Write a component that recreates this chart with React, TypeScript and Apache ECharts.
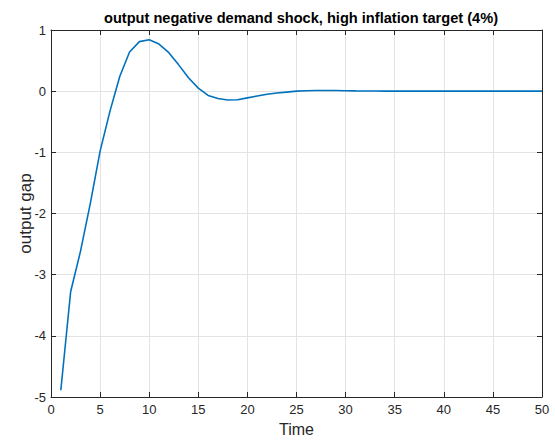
import React, { useEffect, useRef } from "react";
import * as echarts from "echarts";

const periods: number[] = Array.from({ length: 50 }, (_, i) => i + 1);
const outputGap: number[] = [
  -4.89, -3.28, -2.62, -1.84, -0.98, -0.33, 0.24, 0.64, 0.81, 0.84,
  0.77, 0.63, 0.43, 0.22, 0.05, -0.07, -0.12, -0.145, -0.14, -0.11,
  -0.08, -0.05, -0.03, -0.015, 0.0, 0.008, 0.012, 0.012, 0.01, 0.008,
  0.005, 0.003, 0.002, 0.001, 0.0, 0.0, 0.0, 0.0, 0.0, 0.0,
  0.0, 0.0, 0.0, 0.0, 0.0, 0.0, 0.0, 0.0, 0.0, 0.0,
];
const titleText = "output negative demand shock, high inflation target (4%)";
const xName = "Time";
const yName = "output gap";

const FONT = "'Liberation Sans', Arial, sans-serif";
const AXIS_COLOR = "#262626";

export default function App() {
  const ref = useRef<HTMLDivElement>(null);
  useEffect(() => {
    if (!ref.current) return;
    const chart = echarts.init(ref.current, undefined, { renderer: "svg" });
    const data = periods.map((t, i) => [t, outputGap[i]]);
    const axisCommon = {
      axisLine: { show: true, onZero: false, lineStyle: { color: AXIS_COLOR, width: 1 } },
      axisTick: { show: true, inside: true, length: 5, lineStyle: { color: AXIS_COLOR } },
    };
    chart.setOption({
      animation: false,
      backgroundColor: "#ffffff",
      title: {
        text: titleText,
        left: 296,
        textAlign: "center",
        top: 5,
        textStyle: { fontFamily: FONT, fontSize: 14.6, fontWeight: "bold", color: "#000" },
      },
      grid: { left: 51, right: 13, top: 30, bottom: 42, containLabel: false },
      xAxis: [
        {
          type: "value",
          min: 0,
          max: 50,
          interval: 5,
          position: "bottom",
          name: xName,
          nameLocation: "middle",
          nameGap: 24,
          nameMoveOverlap: false,
          nameTextStyle: { fontFamily: FONT, fontSize: 16, color: "#262626" },
          ...axisCommon,
          axisLabel: { fontFamily: FONT, fontSize: 13, color: "#262626", margin: 6 },
          splitLine: { show: true, lineStyle: { color: "#e3e3e3", width: 1 } },
        },
        {
          type: "value",
          min: 0,
          max: 50,
          interval: 5,
          position: "top",
          ...axisCommon,
          axisLabel: { show: false },
          splitLine: { show: false },
        },
      ],
      yAxis: [
        {
          type: "value",
          min: -5,
          max: 1,
          interval: 1,
          position: "left",
          name: yName,
          nameLocation: "middle",
          nameGap: 17,
          nameMoveOverlap: false,
          nameTextStyle: { fontFamily: FONT, fontSize: 17, color: "#262626" },
          ...axisCommon,
          axisLabel: { fontFamily: FONT, fontSize: 13, color: "#262626", margin: 5 },
          splitLine: { show: true, lineStyle: { color: "#e3e3e3", width: 1 } },
        },
        {
          type: "value",
          min: -5,
          max: 1,
          interval: 1,
          position: "right",
          ...axisCommon,
          axisLabel: { show: false },
          splitLine: { show: false },
        },
      ],
      series: [
        {
          type: "line",
          data,
          showSymbol: false,
          smooth: false,
          lineStyle: { color: "#0072BD", width: 1.6 },
          xAxisIndex: 0,
          yAxisIndex: 0,
        },
      ],
    });
    return () => chart.dispose();
  }, []);
  return <div ref={ref} style={{ width: 555, height: 442, position: "absolute", left: 0, top: 0 }} />;
}
